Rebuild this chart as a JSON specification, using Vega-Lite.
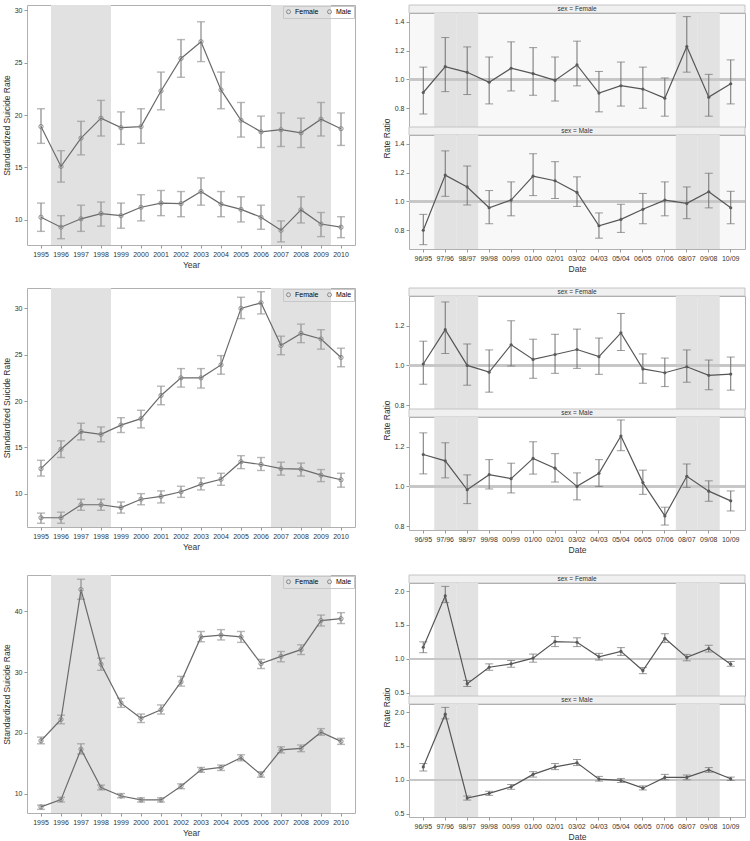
{
"$schema":"https://vega.github.io/schema/vega-lite/v6.json",
"padding":{"left":1,"top":4,"right":2,"bottom":0},
"background":"white",
"config":{
 "font":"Liberation Sans",
 "view":{"stroke":"#b0b0b0","strokeWidth":1},
 "axis":{"labelFontSize":7,"titleFontSize":8.5,"titleFontWeight":"normal","labelColor":"#333","titleColor":"#333","domain":false,"tickColor":"#999","tickSize":3,"grid":false,"labelPadding":2,"titlePadding":3,"labelFont":"Liberation Sans","titleFont":"Liberation Sans","labelOverlap":false},
 "legend":{"labelFont":"Liberation Sans"}
},
"resolve":{"scale":{"color":"independent"},"legend":{"color":"independent"}},
"datasets":{
 "shadeL":[{"year":1996},{"year":1997},{"year":1998},{"year":2007},{"year":2008},{"year":2009}],
 "shadeR":[{"p":"97/96"},{"p":"98/97"},{"p":"08/07"},{"p":"09/08"}],
 "L1":[
  {"year":1995,"sex":"Male","r":18.9,"lo":17.3,"hi":20.6},{"year":1996,"sex":"Male","r":15.1,"lo":13.6,"hi":16.6},{"year":1997,"sex":"Male","r":17.8,"lo":16.2,"hi":19.4},{"year":1998,"sex":"Male","r":19.7,"lo":18.0,"hi":21.4},{"year":1999,"sex":"Male","r":18.8,"lo":17.2,"hi":20.3},{"year":2000,"sex":"Male","r":18.9,"lo":17.3,"hi":20.6},{"year":2001,"sex":"Male","r":22.3,"lo":20.5,"hi":24.1},{"year":2002,"sex":"Male","r":25.4,"lo":23.6,"hi":27.2},{"year":2003,"sex":"Male","r":27.0,"lo":25.1,"hi":28.9},{"year":2004,"sex":"Male","r":22.4,"lo":20.6,"hi":24.1},{"year":2005,"sex":"Male","r":19.5,"lo":17.9,"hi":21.2},{"year":2006,"sex":"Male","r":18.4,"lo":16.9,"hi":19.9},{"year":2007,"sex":"Male","r":18.6,"lo":17.0,"hi":20.2},{"year":2008,"sex":"Male","r":18.3,"lo":16.9,"hi":19.7},{"year":2009,"sex":"Male","r":19.6,"lo":18.0,"hi":21.2},{"year":2010,"sex":"Male","r":18.7,"lo":17.1,"hi":20.2},
  {"year":1995,"sex":"Female","r":10.25,"lo":8.9,"hi":11.6},{"year":1996,"sex":"Female","r":9.3,"lo":8.2,"hi":10.4},{"year":1997,"sex":"Female","r":10.1,"lo":8.9,"hi":11.4},{"year":1998,"sex":"Female","r":10.6,"lo":9.4,"hi":11.7},{"year":1999,"sex":"Female","r":10.4,"lo":9.2,"hi":11.6},{"year":2000,"sex":"Female","r":11.2,"lo":9.9,"hi":12.4},{"year":2001,"sex":"Female","r":11.6,"lo":10.4,"hi":12.8},{"year":2002,"sex":"Female","r":11.55,"lo":10.3,"hi":12.7},{"year":2003,"sex":"Female","r":12.7,"lo":11.4,"hi":14.0},{"year":2004,"sex":"Female","r":11.5,"lo":10.3,"hi":12.7},{"year":2005,"sex":"Female","r":11.0,"lo":9.8,"hi":12.2},{"year":2006,"sex":"Female","r":10.25,"lo":9.1,"hi":11.4},{"year":2007,"sex":"Female","r":9.0,"lo":7.9,"hi":9.9},{"year":2008,"sex":"Female","r":10.95,"lo":9.7,"hi":12.2},{"year":2009,"sex":"Female","r":9.6,"lo":8.4,"hi":10.7},{"year":2010,"sex":"Female","r":9.3,"lo":8.3,"hi":10.3}],
 "L2":[
  {"year":1995,"sex":"Male","r":12.7,"lo":11.9,"hi":13.6},{"year":1996,"sex":"Male","r":14.8,"lo":13.9,"hi":15.7},{"year":1997,"sex":"Male","r":16.7,"lo":15.8,"hi":17.6},{"year":1998,"sex":"Male","r":16.4,"lo":15.6,"hi":17.2},{"year":1999,"sex":"Male","r":17.4,"lo":16.6,"hi":18.2},{"year":2000,"sex":"Male","r":18.1,"lo":17.1,"hi":19.0},{"year":2001,"sex":"Male","r":20.6,"lo":19.6,"hi":21.6},{"year":2002,"sex":"Male","r":22.5,"lo":21.5,"hi":23.5},{"year":2003,"sex":"Male","r":22.5,"lo":21.4,"hi":23.5},{"year":2004,"sex":"Male","r":23.9,"lo":22.9,"hi":24.9},{"year":2005,"sex":"Male","r":30.0,"lo":28.9,"hi":31.2},{"year":2006,"sex":"Male","r":30.6,"lo":29.4,"hi":31.8},{"year":2007,"sex":"Male","r":26.0,"lo":25.0,"hi":27.0},{"year":2008,"sex":"Male","r":27.3,"lo":26.3,"hi":28.3},{"year":2009,"sex":"Male","r":26.7,"lo":25.6,"hi":27.7},{"year":2010,"sex":"Male","r":24.7,"lo":23.7,"hi":25.7},
  {"year":1995,"sex":"Female","r":7.4,"lo":6.8,"hi":7.9},{"year":1996,"sex":"Female","r":7.4,"lo":6.8,"hi":8.0},{"year":1997,"sex":"Female","r":8.8,"lo":8.2,"hi":9.4},{"year":1998,"sex":"Female","r":8.8,"lo":8.2,"hi":9.4},{"year":1999,"sex":"Female","r":8.5,"lo":7.9,"hi":9.1},{"year":2000,"sex":"Female","r":9.4,"lo":8.8,"hi":10.0},{"year":2001,"sex":"Female","r":9.7,"lo":9.0,"hi":10.3},{"year":2002,"sex":"Female","r":10.2,"lo":9.6,"hi":10.8},{"year":2003,"sex":"Female","r":11.0,"lo":10.4,"hi":11.7},{"year":2004,"sex":"Female","r":11.55,"lo":10.9,"hi":12.2},{"year":2005,"sex":"Female","r":13.45,"lo":12.7,"hi":14.1},{"year":2006,"sex":"Female","r":13.15,"lo":12.5,"hi":13.9},{"year":2007,"sex":"Female","r":12.7,"lo":12.0,"hi":13.4},{"year":2008,"sex":"Female","r":12.65,"lo":11.9,"hi":13.3},{"year":2009,"sex":"Female","r":12.0,"lo":11.3,"hi":12.6},{"year":2010,"sex":"Female","r":11.5,"lo":10.7,"hi":12.2}],
 "L3":[
  {"year":1995,"sex":"Male","r":18.7,"lo":18.2,"hi":19.3},{"year":1996,"sex":"Male","r":22.2,"lo":21.5,"hi":22.9},{"year":1997,"sex":"Male","r":43.6,"lo":42.0,"hi":45.3},{"year":1998,"sex":"Male","r":31.3,"lo":30.3,"hi":32.3},{"year":1999,"sex":"Male","r":24.9,"lo":24.2,"hi":25.7},{"year":2000,"sex":"Male","r":22.4,"lo":21.7,"hi":23.1},{"year":2001,"sex":"Male","r":23.8,"lo":23.1,"hi":24.6},{"year":2002,"sex":"Male","r":28.4,"lo":27.7,"hi":29.3},{"year":2003,"sex":"Male","r":35.8,"lo":35.0,"hi":36.7},{"year":2004,"sex":"Male","r":36.1,"lo":35.3,"hi":37.0},{"year":2005,"sex":"Male","r":35.8,"lo":34.9,"hi":36.7},{"year":2006,"sex":"Male","r":31.4,"lo":30.6,"hi":32.1},{"year":2007,"sex":"Male","r":32.6,"lo":31.7,"hi":33.4},{"year":2008,"sex":"Male","r":33.7,"lo":32.9,"hi":34.5},{"year":2009,"sex":"Male","r":38.5,"lo":37.6,"hi":39.4},{"year":2010,"sex":"Male","r":38.8,"lo":38.0,"hi":39.8},
  {"year":1995,"sex":"Female","r":7.8,"lo":7.4,"hi":8.1},{"year":1996,"sex":"Female","r":9.0,"lo":8.6,"hi":9.4},{"year":1997,"sex":"Female","r":17.3,"lo":16.5,"hi":18.2},{"year":1998,"sex":"Female","r":11.0,"lo":10.6,"hi":11.4},{"year":1999,"sex":"Female","r":9.6,"lo":9.3,"hi":10.0},{"year":2000,"sex":"Female","r":8.95,"lo":8.6,"hi":9.3},{"year":2001,"sex":"Female","r":8.95,"lo":8.6,"hi":9.3},{"year":2002,"sex":"Female","r":11.2,"lo":10.8,"hi":11.6},{"year":2003,"sex":"Female","r":13.9,"lo":13.5,"hi":14.3},{"year":2004,"sex":"Female","r":14.3,"lo":13.8,"hi":14.7},{"year":2005,"sex":"Female","r":15.9,"lo":15.4,"hi":16.4},{"year":2006,"sex":"Female","r":13.1,"lo":12.7,"hi":13.6},{"year":2007,"sex":"Female","r":17.2,"lo":16.7,"hi":17.7},{"year":2008,"sex":"Female","r":17.45,"lo":16.9,"hi":18.0},{"year":2009,"sex":"Female","r":20.1,"lo":19.6,"hi":20.7},{"year":2010,"sex":"Female","r":18.6,"lo":18.1,"hi":19.1}],
 "R1":[
  {"p":"96/95","sex":"Female","r":0.909,"lo":0.76,"hi":1.085},{"p":"97/96","sex":"Female","r":1.088,"lo":0.915,"hi":1.29},{"p":"98/97","sex":"Female","r":1.049,"lo":0.895,"hi":1.225},{"p":"99/98","sex":"Female","r":0.98,"lo":0.83,"hi":1.155},{"p":"00/99","sex":"Female","r":1.077,"lo":0.92,"hi":1.26},{"p":"01/00","sex":"Female","r":1.04,"lo":0.89,"hi":1.22},{"p":"02/01","sex":"Female","r":0.993,"lo":0.85,"hi":1.155},{"p":"03/02","sex":"Female","r":1.1,"lo":0.955,"hi":1.265},{"p":"04/03","sex":"Female","r":0.905,"lo":0.775,"hi":1.055},{"p":"05/04","sex":"Female","r":0.956,"lo":0.815,"hi":1.12},{"p":"06/05","sex":"Female","r":0.933,"lo":0.8,"hi":1.085},{"p":"07/06","sex":"Female","r":0.87,"lo":0.745,"hi":1.01},{"p":"08/07","sex":"Female","r":1.228,"lo":1.05,"hi":1.435},{"p":"09/08","sex":"Female","r":0.877,"lo":0.745,"hi":1.035},{"p":"10/09","sex":"Female","r":0.97,"lo":0.83,"hi":1.135},
  {"p":"96/95","sex":"Male","r":0.8,"lo":0.7,"hi":0.91},{"p":"97/96","sex":"Male","r":1.182,"lo":1.035,"hi":1.35},{"p":"98/97","sex":"Male","r":1.1,"lo":0.975,"hi":1.245},{"p":"99/98","sex":"Male","r":0.956,"lo":0.845,"hi":1.075},{"p":"00/99","sex":"Male","r":1.009,"lo":0.9,"hi":1.135},{"p":"01/00","sex":"Male","r":1.175,"lo":1.04,"hi":1.33},{"p":"02/01","sex":"Male","r":1.143,"lo":1.02,"hi":1.275},{"p":"03/02","sex":"Male","r":1.062,"lo":0.965,"hi":1.17},{"p":"04/03","sex":"Male","r":0.831,"lo":0.745,"hi":0.92},{"p":"05/04","sex":"Male","r":0.875,"lo":0.785,"hi":0.98},{"p":"06/05","sex":"Male","r":0.945,"lo":0.845,"hi":1.055},{"p":"07/06","sex":"Male","r":1.009,"lo":0.9,"hi":1.135},{"p":"08/07","sex":"Male","r":0.986,"lo":0.88,"hi":1.1},{"p":"09/08","sex":"Male","r":1.067,"lo":0.955,"hi":1.195},{"p":"10/09","sex":"Male","r":0.956,"lo":0.845,"hi":1.07}],
 "R2":[
  {"p":"96/95","sex":"Female","r":1.007,"lo":0.905,"hi":1.122},{"p":"97/96","sex":"Female","r":1.18,"lo":1.06,"hi":1.32},{"p":"98/97","sex":"Female","r":1.0,"lo":0.9,"hi":1.108},{"p":"99/98","sex":"Female","r":0.966,"lo":0.865,"hi":1.078},{"p":"00/99","sex":"Female","r":1.104,"lo":0.997,"hi":1.225},{"p":"01/00","sex":"Female","r":1.03,"lo":0.935,"hi":1.132},{"p":"02/01","sex":"Female","r":1.055,"lo":0.96,"hi":1.157},{"p":"03/02","sex":"Female","r":1.08,"lo":0.985,"hi":1.183},{"p":"04/03","sex":"Female","r":1.044,"lo":0.955,"hi":1.138},{"p":"05/04","sex":"Female","r":1.164,"lo":1.075,"hi":1.262},{"p":"06/05","sex":"Female","r":0.982,"lo":0.91,"hi":1.058},{"p":"07/06","sex":"Female","r":0.963,"lo":0.893,"hi":1.037},{"p":"08/07","sex":"Female","r":0.993,"lo":0.915,"hi":1.078},{"p":"09/08","sex":"Female","r":0.95,"lo":0.877,"hi":1.027},{"p":"10/09","sex":"Female","r":0.956,"lo":0.875,"hi":1.042},
  {"p":"96/95","sex":"Male","r":1.161,"lo":1.063,"hi":1.27},{"p":"97/96","sex":"Male","r":1.129,"lo":1.043,"hi":1.22},{"p":"98/97","sex":"Male","r":0.983,"lo":0.913,"hi":1.058},{"p":"99/98","sex":"Male","r":1.059,"lo":0.987,"hi":1.135},{"p":"00/99","sex":"Male","r":1.039,"lo":0.967,"hi":1.117},{"p":"01/00","sex":"Male","r":1.141,"lo":1.062,"hi":1.225},{"p":"02/01","sex":"Male","r":1.092,"lo":1.022,"hi":1.165},{"p":"03/02","sex":"Male","r":1.0,"lo":0.932,"hi":1.068},{"p":"04/03","sex":"Male","r":1.066,"lo":1.0,"hi":1.135},{"p":"05/04","sex":"Male","r":1.254,"lo":1.18,"hi":1.335},{"p":"06/05","sex":"Male","r":1.019,"lo":0.96,"hi":1.082},{"p":"07/06","sex":"Male","r":0.851,"lo":0.805,"hi":0.895},{"p":"08/07","sex":"Male","r":1.051,"lo":0.995,"hi":1.113},{"p":"09/08","sex":"Male","r":0.976,"lo":0.925,"hi":1.028},{"p":"10/09","sex":"Male","r":0.927,"lo":0.876,"hi":0.977}],
 "R3":[
  {"p":"96/95","sex":"Female","r":1.17,"lo":1.09,"hi":1.25},{"p":"97/96","sex":"Female","r":1.93,"lo":1.83,"hi":2.07},{"p":"98/97","sex":"Female","r":0.63,"lo":0.59,"hi":0.68},{"p":"99/98","sex":"Female","r":0.875,"lo":0.83,"hi":0.925},{"p":"00/99","sex":"Female","r":0.925,"lo":0.875,"hi":0.975},{"p":"01/00","sex":"Female","r":1.01,"lo":0.95,"hi":1.07},{"p":"02/01","sex":"Female","r":1.254,"lo":1.18,"hi":1.33},{"p":"03/02","sex":"Female","r":1.244,"lo":1.18,"hi":1.31},{"p":"04/03","sex":"Female","r":1.03,"lo":0.98,"hi":1.08},{"p":"05/04","sex":"Female","r":1.11,"lo":1.05,"hi":1.165},{"p":"06/05","sex":"Female","r":0.826,"lo":0.78,"hi":0.87},{"p":"07/06","sex":"Female","r":1.304,"lo":1.24,"hi":1.37},{"p":"08/07","sex":"Female","r":1.02,"lo":0.97,"hi":1.065},{"p":"09/08","sex":"Female","r":1.15,"lo":1.1,"hi":1.2},{"p":"10/09","sex":"Female","r":0.92,"lo":0.89,"hi":0.96},
  {"p":"96/95","sex":"Male","r":1.19,"lo":1.13,"hi":1.24},{"p":"97/96","sex":"Male","r":1.97,"lo":1.9,"hi":2.07},{"p":"98/97","sex":"Male","r":0.73,"lo":0.7,"hi":0.76},{"p":"99/98","sex":"Male","r":0.8,"lo":0.77,"hi":0.83},{"p":"00/99","sex":"Male","r":0.896,"lo":0.86,"hi":0.93},{"p":"01/00","sex":"Male","r":1.08,"lo":1.04,"hi":1.12},{"p":"02/01","sex":"Male","r":1.19,"lo":1.15,"hi":1.24},{"p":"03/02","sex":"Male","r":1.25,"lo":1.21,"hi":1.3},{"p":"04/03","sex":"Male","r":1.01,"lo":0.98,"hi":1.05},{"p":"05/04","sex":"Male","r":0.99,"lo":0.96,"hi":1.02},{"p":"06/05","sex":"Male","r":0.876,"lo":0.85,"hi":0.91},{"p":"07/06","sex":"Male","r":1.035,"lo":1.0,"hi":1.08},{"p":"08/07","sex":"Male","r":1.035,"lo":1.0,"hi":1.07},{"p":"09/08","sex":"Male","r":1.145,"lo":1.11,"hi":1.18},{"p":"10/09","sex":"Male","r":1.015,"lo":0.99,"hi":1.04}]
},
"vconcat":[
 {"vconcat":[
  {"hconcat":[
   {"width":328,"height":240,"layer":[
    {"data":{"name":"shadeL"},"mark":{"type":"rect","color":"#e1e1e1"},"encoding":{"x":{"field":"year","type":"ordinal","scale":{"domain":[1995,1996,1997,1998,1999,2000,2001,2002,2003,2004,2005,2006,2007,2008,2009,2010],"paddingInner":0,"paddingOuter":0.2},"axis":{"title":"Year","labelAngle":0,"labelOverlap":false}}}},
    {"data":{"name":"L1"},"layer":[
     {"mark":{"type":"errorbar","ticks":true,"color":"#9a9a9a","size":8,"thickness":1.4},"encoding":{"x":{"field":"year","type":"ordinal"},"y":{"field":"lo","type":"quantitative","scale":{"domain":[7.6,30.5],"nice":false,"zero":false},"axis":{"title":"Standardized Suicide Rate","values":[10,15,20,25,30]}},"y2":{"field":"hi"}}},
     {"mark":{"type":"line","color":"#6a6a6a","strokeWidth":1.2},"encoding":{"x":{"field":"year","type":"ordinal"},"y":{"field":"r","type":"quantitative"},"detail":{"field":"sex","type":"nominal"}}},
     {"mark":{"type":"point","filled":false,"size":18,"strokeWidth":1,"opacity":1},"encoding":{"x":{"field":"year","type":"ordinal"},"y":{"field":"r","type":"quantitative"},"color":{"field":"sex","type":"nominal","scale":{"domain":["Female","Male"],"range":["#8a8a8a","#8a8a8a"]},"legend":{"orient":"top-right","direction":"horizontal","title":null,"strokeColor":"#c8c8c8","padding":2,"offset":1,"labelFontSize":7,"symbolSize":16,"symbolStrokeWidth":1,"columnPadding":6,"labelOffset":3}}}}
    ]}
   ]},
   {"vconcat":[
    {"width":336,"height":8,"view":{"stroke":null},"data":{"values":[{"label":"sex = Female"}]},"layer":[
     {"mark":{"type":"rect","fill":"#f0f0f0","stroke":"#c4c4c4","strokeWidth":1},"encoding":{}},
     {"mark":{"type":"text","fontSize":6.5,"color":"#333"},"encoding":{"text":{"field":"label","type":"nominal"}}}]},
    {"width":336,"height":114,"view":{"fill":"#f8f8f8"},"layer":[
     {"data":{"name":"shadeR"},"mark":{"type":"rect","color":"#e2e2e2"},"encoding":{"x":{"field":"p","type":"ordinal","sort":["96/95","97/96","98/97","99/98","00/99","01/00","02/01","03/02","04/03","05/04","06/05","07/06","08/07","09/08","10/09"],"scale":{"domain":["96/95","97/96","98/97","99/98","00/99","01/00","02/01","03/02","04/03","05/04","06/05","07/06","08/07","09/08","10/09"],"paddingInner":0,"paddingOuter":0.15},"axis":null}}},
     {"data":{"name":"R1"},"transform":[{"filter":"datum.sex == 'Female'"}],"layer":[
      {"mark":{"type":"rule","color":"#c6c6c6","strokeWidth":1.5},"encoding":{"y":{"datum":1,"type":"quantitative"}}},
      {"mark":{"type":"errorbar","ticks":true,"color":"#707070","size":8,"thickness":1},"encoding":{"x":{"field":"p","type":"ordinal","sort":["96/95","97/96","98/97","99/98","00/99","01/00","02/01","03/02","04/03","05/04","06/05","07/06","08/07","09/08","10/09"]},"y":{"field":"lo","type":"quantitative","scale":{"domain":[0.67,1.46],"nice":false,"zero":false},"axis":{"title":null,"tickCount":4,"format":".1f"}},"y2":{"field":"hi"}}},
      {"mark":{"type":"line","color":"#555","strokeWidth":1.2},"encoding":{"x":{"field":"p","type":"ordinal","sort":["96/95","97/96","98/97","99/98","00/99","01/00","02/01","03/02","04/03","05/04","06/05","07/06","08/07","09/08","10/09"]},"y":{"field":"r","type":"quantitative"}}},
      {"mark":{"type":"point","filled":true,"color":"#5a5a5a","size":10,"opacity":1},"encoding":{"x":{"field":"p","type":"ordinal","sort":["96/95","97/96","98/97","99/98","00/99","01/00","02/01","03/02","04/03","05/04","06/05","07/06","08/07","09/08","10/09"]},"y":{"field":"r","type":"quantitative"}}}
     ]}
    ]},
    {"width":336,"height":8,"view":{"stroke":null},"data":{"values":[{"label":"sex = Male"}]},"layer":[
     {"mark":{"type":"rect","fill":"#f0f0f0","stroke":"#c4c4c4","strokeWidth":1},"encoding":{}},
     {"mark":{"type":"text","fontSize":6.5,"color":"#333"},"encoding":{"text":{"field":"label","type":"nominal"}}}]},
    {"width":336,"height":114,"view":{"fill":"#f8f8f8"},"layer":[
     {"data":{"name":"shadeR"},"mark":{"type":"rect","color":"#e2e2e2"},"encoding":{"x":{"field":"p","type":"ordinal","sort":["96/95","97/96","98/97","99/98","00/99","01/00","02/01","03/02","04/03","05/04","06/05","07/06","08/07","09/08","10/09"],"scale":{"domain":["96/95","97/96","98/97","99/98","00/99","01/00","02/01","03/02","04/03","05/04","06/05","07/06","08/07","09/08","10/09"],"paddingInner":0,"paddingOuter":0.15},"axis":{"title":"Date","labelAngle":0,"labelOverlap":false}}}},
     {"data":{"name":"R1"},"transform":[{"filter":"datum.sex == 'Male'"}],"layer":[
      {"mark":{"type":"rule","color":"#c6c6c6","strokeWidth":1.5},"encoding":{"y":{"datum":1,"type":"quantitative"}}},
      {"mark":{"type":"errorbar","ticks":true,"color":"#707070","size":8,"thickness":1},"encoding":{"x":{"field":"p","type":"ordinal","sort":["96/95","97/96","98/97","99/98","00/99","01/00","02/01","03/02","04/03","05/04","06/05","07/06","08/07","09/08","10/09"]},"y":{"field":"lo","type":"quantitative","scale":{"domain":[0.67,1.46],"nice":false,"zero":false},"axis":{"title":"Rate Ratio","titleY":3,"tickCount":4,"format":".1f"}},"y2":{"field":"hi"}}},
      {"mark":{"type":"line","color":"#555","strokeWidth":1.2},"encoding":{"x":{"field":"p","type":"ordinal","sort":["96/95","97/96","98/97","99/98","00/99","01/00","02/01","03/02","04/03","05/04","06/05","07/06","08/07","09/08","10/09"]},"y":{"field":"r","type":"quantitative"}}},
      {"mark":{"type":"point","filled":true,"color":"#5a5a5a","size":10,"opacity":1},"encoding":{"x":{"field":"p","type":"ordinal","sort":["96/95","97/96","98/97","99/98","00/99","01/00","02/01","03/02","04/03","05/04","06/05","07/06","08/07","09/08","10/09"]},"y":{"field":"r","type":"quantitative"}}}
     ]}
    ]}
   ],"spacing":0,"bounds":"flush"}
  ],"spacing":25,"resolve":{"scale":{"color":"independent"},"legend":{"color":"independent"}}},
  {"hconcat":[
   {"width":328,"height":239,"layer":[
    {"data":{"name":"shadeL"},"mark":{"type":"rect","color":"#e1e1e1"},"encoding":{"x":{"field":"year","type":"ordinal","scale":{"domain":[1995,1996,1997,1998,1999,2000,2001,2002,2003,2004,2005,2006,2007,2008,2009,2010],"paddingInner":0,"paddingOuter":0.2},"axis":{"title":"Year","labelAngle":0,"labelOverlap":false}}}},
    {"data":{"name":"L2"},"layer":[
     {"mark":{"type":"errorbar","ticks":true,"color":"#9a9a9a","size":8,"thickness":1.4},"encoding":{"x":{"field":"year","type":"ordinal"},"y":{"field":"lo","type":"quantitative","scale":{"domain":[6.4,32.2],"nice":false,"zero":false},"axis":{"title":"Standardized Suicide Rate","values":[10,15,20,25,30]}},"y2":{"field":"hi"}}},
     {"mark":{"type":"line","color":"#6a6a6a","strokeWidth":1.2},"encoding":{"x":{"field":"year","type":"ordinal"},"y":{"field":"r","type":"quantitative"},"detail":{"field":"sex","type":"nominal"}}},
     {"mark":{"type":"point","filled":false,"size":18,"strokeWidth":1,"opacity":1},"encoding":{"x":{"field":"year","type":"ordinal"},"y":{"field":"r","type":"quantitative"},"color":{"field":"sex","type":"nominal","scale":{"domain":["Female","Male"],"range":["#8a8a8a","#8a8a8a"]},"legend":{"orient":"top-right","direction":"horizontal","title":null,"strokeColor":"#c8c8c8","padding":2,"offset":1,"labelFontSize":7,"symbolSize":16,"symbolStrokeWidth":1,"columnPadding":6,"labelOffset":3}}}}
    ]}
   ]},
   {"vconcat":[
    {"width":336,"height":8,"view":{"stroke":null},"data":{"values":[{"label":"sex = Female"}]},"layer":[
     {"mark":{"type":"rect","fill":"#f0f0f0","stroke":"#c4c4c4","strokeWidth":1},"encoding":{}},
     {"mark":{"type":"text","fontSize":6.5,"color":"#333"},"encoding":{"text":{"field":"label","type":"nominal"}}}]},
    {"width":336,"height":113,"layer":[
     {"data":{"name":"shadeR"},"mark":{"type":"rect","color":"#e2e2e2"},"encoding":{"x":{"field":"p","type":"ordinal","sort":["96/95","97/96","98/97","99/98","00/99","01/00","02/01","03/02","04/03","05/04","06/05","07/06","08/07","09/08","10/09"],"scale":{"domain":["96/95","97/96","98/97","99/98","00/99","01/00","02/01","03/02","04/03","05/04","06/05","07/06","08/07","09/08","10/09"],"paddingInner":0,"paddingOuter":0.15},"axis":null}}},
     {"data":{"name":"R2"},"transform":[{"filter":"datum.sex == 'Female'"}],"layer":[
      {"mark":{"type":"rule","color":"#c6c6c6","strokeWidth":1.5},"encoding":{"y":{"datum":1,"type":"quantitative"}}},
      {"mark":{"type":"errorbar","ticks":true,"color":"#707070","size":8,"thickness":1},"encoding":{"x":{"field":"p","type":"ordinal","sort":["96/95","97/96","98/97","99/98","00/99","01/00","02/01","03/02","04/03","05/04","06/05","07/06","08/07","09/08","10/09"]},"y":{"field":"lo","type":"quantitative","scale":{"domain":[0.78,1.35],"nice":false,"zero":false},"axis":{"title":null,"values":[0.8,0.9,1.0,1.1,1.2,1.3],"format":".1f"}},"y2":{"field":"hi"}}},
      {"mark":{"type":"line","color":"#555","strokeWidth":1.2},"encoding":{"x":{"field":"p","type":"ordinal","sort":["96/95","97/96","98/97","99/98","00/99","01/00","02/01","03/02","04/03","05/04","06/05","07/06","08/07","09/08","10/09"]},"y":{"field":"r","type":"quantitative"}}},
      {"mark":{"type":"point","filled":true,"color":"#5a5a5a","size":10,"opacity":1},"encoding":{"x":{"field":"p","type":"ordinal","sort":["96/95","97/96","98/97","99/98","00/99","01/00","02/01","03/02","04/03","05/04","06/05","07/06","08/07","09/08","10/09"]},"y":{"field":"r","type":"quantitative"}}}
     ]}
    ]},
    {"width":336,"height":8,"view":{"stroke":null},"data":{"values":[{"label":"sex = Male"}]},"layer":[
     {"mark":{"type":"rect","fill":"#f0f0f0","stroke":"#c4c4c4","strokeWidth":1},"encoding":{}},
     {"mark":{"type":"text","fontSize":6.5,"color":"#333"},"encoding":{"text":{"field":"label","type":"nominal"}}}]},
    {"width":336,"height":113,"layer":[
     {"data":{"name":"shadeR"},"mark":{"type":"rect","color":"#e2e2e2"},"encoding":{"x":{"field":"p","type":"ordinal","sort":["96/95","97/96","98/97","99/98","00/99","01/00","02/01","03/02","04/03","05/04","06/05","07/06","08/07","09/08","10/09"],"scale":{"domain":["96/95","97/96","98/97","99/98","00/99","01/00","02/01","03/02","04/03","05/04","06/05","07/06","08/07","09/08","10/09"],"paddingInner":0,"paddingOuter":0.15},"axis":{"title":"Date","labelAngle":0,"labelOverlap":false}}}},
     {"data":{"name":"R2"},"transform":[{"filter":"datum.sex == 'Male'"}],"layer":[
      {"mark":{"type":"rule","color":"#c6c6c6","strokeWidth":1.5},"encoding":{"y":{"datum":1,"type":"quantitative"}}},
      {"mark":{"type":"errorbar","ticks":true,"color":"#707070","size":8,"thickness":1},"encoding":{"x":{"field":"p","type":"ordinal","sort":["96/95","97/96","98/97","99/98","00/99","01/00","02/01","03/02","04/03","05/04","06/05","07/06","08/07","09/08","10/09"]},"y":{"field":"lo","type":"quantitative","scale":{"domain":[0.78,1.35],"nice":false,"zero":false},"axis":{"title":"Rate Ratio","titleY":3,"values":[0.8,0.9,1.0,1.1,1.2,1.3],"format":".1f"}},"y2":{"field":"hi"}}},
      {"mark":{"type":"line","color":"#555","strokeWidth":1.2},"encoding":{"x":{"field":"p","type":"ordinal","sort":["96/95","97/96","98/97","99/98","00/99","01/00","02/01","03/02","04/03","05/04","06/05","07/06","08/07","09/08","10/09"]},"y":{"field":"r","type":"quantitative"}}},
      {"mark":{"type":"point","filled":true,"color":"#5a5a5a","size":10,"opacity":1},"encoding":{"x":{"field":"p","type":"ordinal","sort":["96/95","97/96","98/97","99/98","00/99","01/00","02/01","03/02","04/03","05/04","06/05","07/06","08/07","09/08","10/09"]},"y":{"field":"r","type":"quantitative"}}}
     ]}
    ]}
   ],"spacing":0,"bounds":"flush"}
  ],"spacing":25,"resolve":{"scale":{"color":"independent"},"legend":{"color":"independent"}}}
 ],"spacing":14,"resolve":{"scale":{"color":"independent"},"legend":{"color":"independent"}}},
 {"hconcat":[
  {"width":328,"height":238,"layer":[
   {"data":{"name":"shadeL"},"mark":{"type":"rect","color":"#e1e1e1"},"encoding":{"x":{"field":"year","type":"ordinal","scale":{"domain":[1995,1996,1997,1998,1999,2000,2001,2002,2003,2004,2005,2006,2007,2008,2009,2010],"paddingInner":0,"paddingOuter":0.2},"axis":{"title":"Year","labelAngle":0,"labelOverlap":false}}}},
   {"data":{"name":"L3"},"layer":[
    {"mark":{"type":"errorbar","ticks":true,"color":"#9a9a9a","size":8,"thickness":1.4},"encoding":{"x":{"field":"year","type":"ordinal"},"y":{"field":"lo","type":"quantitative","scale":{"domain":[6.8,46],"nice":false,"zero":false},"axis":{"title":"Standardized Suicide Rate","values":[10,20,30,40]}},"y2":{"field":"hi"}}},
    {"mark":{"type":"line","color":"#6a6a6a","strokeWidth":1.2},"encoding":{"x":{"field":"year","type":"ordinal"},"y":{"field":"r","type":"quantitative"},"detail":{"field":"sex","type":"nominal"}}},
    {"mark":{"type":"point","filled":false,"size":18,"strokeWidth":1,"opacity":1},"encoding":{"x":{"field":"year","type":"ordinal"},"y":{"field":"r","type":"quantitative"},"color":{"field":"sex","type":"nominal","scale":{"domain":["Female","Male"],"range":["#8a8a8a","#8a8a8a"]},"legend":{"orient":"top-right","direction":"horizontal","title":null,"strokeColor":"#c8c8c8","padding":2,"offset":1,"labelFontSize":7,"symbolSize":16,"symbolStrokeWidth":1,"columnPadding":6,"labelOffset":3}}}}
   ]}
  ]},
  {"vconcat":[
   {"width":336,"height":8,"view":{"stroke":null},"data":{"values":[{"label":"sex = Female"}]},"layer":[
    {"mark":{"type":"rect","fill":"#f0f0f0","stroke":"#c4c4c4","strokeWidth":1},"encoding":{}},
    {"mark":{"type":"text","fontSize":6.5,"color":"#333"},"encoding":{"text":{"field":"label","type":"nominal"}}}]},
   {"width":336,"height":113,"layer":[
    {"data":{"name":"shadeR"},"mark":{"type":"rect","color":"#e2e2e2"},"encoding":{"x":{"field":"p","type":"ordinal","sort":["96/95","97/96","98/97","99/98","00/99","01/00","02/01","03/02","04/03","05/04","06/05","07/06","08/07","09/08","10/09"],"scale":{"domain":["96/95","97/96","98/97","99/98","00/99","01/00","02/01","03/02","04/03","05/04","06/05","07/06","08/07","09/08","10/09"],"paddingInner":0,"paddingOuter":0.15},"axis":null}}},
    {"data":{"name":"R3"},"transform":[{"filter":"datum.sex == 'Female'"}],"layer":[
     {"mark":{"type":"rule","color":"#c6c6c6","strokeWidth":1.5},"encoding":{"y":{"datum":1,"type":"quantitative"}}},
     {"mark":{"type":"errorbar","ticks":true,"color":"#707070","size":8,"thickness":1},"encoding":{"x":{"field":"p","type":"ordinal","sort":["96/95","97/96","98/97","99/98","00/99","01/00","02/01","03/02","04/03","05/04","06/05","07/06","08/07","09/08","10/09"]},"y":{"field":"lo","type":"quantitative","scale":{"domain":[0.45,2.12],"nice":false,"zero":false},"axis":{"title":null,"tickCount":4,"format":".1f"}},"y2":{"field":"hi"}}},
     {"mark":{"type":"line","color":"#555","strokeWidth":1.2},"encoding":{"x":{"field":"p","type":"ordinal","sort":["96/95","97/96","98/97","99/98","00/99","01/00","02/01","03/02","04/03","05/04","06/05","07/06","08/07","09/08","10/09"]},"y":{"field":"r","type":"quantitative"}}},
     {"mark":{"type":"point","filled":true,"color":"#5a5a5a","size":10,"opacity":1},"encoding":{"x":{"field":"p","type":"ordinal","sort":["96/95","97/96","98/97","99/98","00/99","01/00","02/01","03/02","04/03","05/04","06/05","07/06","08/07","09/08","10/09"]},"y":{"field":"r","type":"quantitative"}}}
    ]}
   ]},
   {"width":336,"height":8,"view":{"stroke":null},"data":{"values":[{"label":"sex = Male"}]},"layer":[
    {"mark":{"type":"rect","fill":"#f0f0f0","stroke":"#c4c4c4","strokeWidth":1},"encoding":{}},
    {"mark":{"type":"text","fontSize":6.5,"color":"#333"},"encoding":{"text":{"field":"label","type":"nominal"}}}]},
   {"width":336,"height":113,"layer":[
    {"data":{"name":"shadeR"},"mark":{"type":"rect","color":"#e2e2e2"},"encoding":{"x":{"field":"p","type":"ordinal","sort":["96/95","97/96","98/97","99/98","00/99","01/00","02/01","03/02","04/03","05/04","06/05","07/06","08/07","09/08","10/09"],"scale":{"domain":["96/95","97/96","98/97","99/98","00/99","01/00","02/01","03/02","04/03","05/04","06/05","07/06","08/07","09/08","10/09"],"paddingInner":0,"paddingOuter":0.15},"axis":{"title":"Date","labelAngle":0,"labelOverlap":false}}}},
    {"data":{"name":"R3"},"transform":[{"filter":"datum.sex == 'Male'"}],"layer":[
     {"mark":{"type":"rule","color":"#c6c6c6","strokeWidth":1.5},"encoding":{"y":{"datum":1,"type":"quantitative"}}},
     {"mark":{"type":"errorbar","ticks":true,"color":"#707070","size":8,"thickness":1},"encoding":{"x":{"field":"p","type":"ordinal","sort":["96/95","97/96","98/97","99/98","00/99","01/00","02/01","03/02","04/03","05/04","06/05","07/06","08/07","09/08","10/09"]},"y":{"field":"lo","type":"quantitative","scale":{"domain":[0.45,2.12],"nice":false,"zero":false},"axis":{"title":"Rate Ratio","titleY":3,"tickCount":4,"format":".1f"}},"y2":{"field":"hi"}}},
     {"mark":{"type":"line","color":"#555","strokeWidth":1.2},"encoding":{"x":{"field":"p","type":"ordinal","sort":["96/95","97/96","98/97","99/98","00/99","01/00","02/01","03/02","04/03","05/04","06/05","07/06","08/07","09/08","10/09"]},"y":{"field":"r","type":"quantitative"}}},
     {"mark":{"type":"point","filled":true,"color":"#5a5a5a","size":10,"opacity":1},"encoding":{"x":{"field":"p","type":"ordinal","sort":["96/95","97/96","98/97","99/98","00/99","01/00","02/01","03/02","04/03","05/04","06/05","07/06","08/07","09/08","10/09"]},"y":{"field":"r","type":"quantitative"}}}
    ]}
   ]}
  ],"spacing":0,"bounds":"flush"}
 ],"spacing":25,"resolve":{"scale":{"color":"independent"},"legend":{"color":"independent"}}}
],
"spacing":20
}
